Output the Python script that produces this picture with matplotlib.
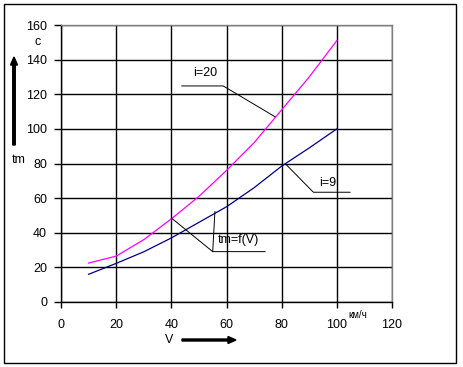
import matplotlib
matplotlib.use("Agg")
import matplotlib.pyplot as plt
from matplotlib.patches import Rectangle, FancyArrow

# speed, km/h
speed = [10, 20, 30, 40, 50, 60, 70, 80, 90, 100]
# time for i=20 and i=9
t_i20 = [22.5, 26.5, 36, 48, 61, 76, 92, 111, 130, 151]
t_i9 = [16, 22.3, 29, 37, 46, 55, 66, 78.5, 89, 100]

x_ticks = [0, 20, 40, 60, 80, 100, 120]
y_ticks = [0, 20, 40, 60, 80, 100, 120, 140, 160]

W, H = 463, 367
plt.rcParams['font.family'] = ['Liberation Sans', 'DejaVu Sans']
fig = plt.figure(figsize=(W / 100, H / 100), dpi=100)
ax = fig.add_axes([61 / W, 1 - 302 / H, 331 / W, 277 / H])

ax.plot(speed, t_i20, color='#ff00ff', lw=0.9)
ax.plot(speed, t_i9, color='#000080', lw=0.9)

ax.set_xlim(0, 120)
ax.set_ylim(0, 160)
ax.set_xticks(x_ticks)
ax.set_yticks(y_ticks)
ax.grid(True, color='black', lw=1.0)
ax.tick_params(axis='x', length=4, width=1, pad=8, labelsize=9)
ax.tick_params(axis='y', length=5, width=1, pad=5, labelsize=9)
for s in ['left', 'bottom']:
    ax.spines[s].set_color('black')
    ax.spines[s].set_linewidth(1)
for s in ['top', 'right']:
    ax.spines[s].set_color('#808080')
    ax.spines[s].set_linewidth(1)
ax.set_axisbelow(True)

# leader lines and labels
lk = dict(color='black', lw=0.7, clip_on=False)
ax.plot([43.8, 58.8, 77.6], [124.8, 124.8, 107], **lk)
ax.text(47.9, 132.3, 'i=20', fontsize=9, va='center', ha='left')
ax.plot([81.8, 91.5, 104.8], [79.1, 63.4, 63.4], **lk)
ax.text(93.5, 68.7, 'i=9', fontsize=9, va='center', ha='left')
ax.plot([40.1, 55.0, 74.0], [48.4, 29.1, 29.1], **lk)
ax.plot([55.0, 55.8], [29.1, 52.2], **lk)
ax.text(56.8, 35.8, 'tm=f(V)', fontsize=9, va='center', ha='left')

# axis captions outside the plot
fig.text(38 / W, 1 - 42 / H, 'c', fontsize=9, ha='center', va='center')
fig.text(19 / W, 1 - 160 / H, 'tm', fontsize=9, ha='center', va='center')
fig.text(169 / W, 1 - 340 / H, 'V', fontsize=9, ha='center', va='center')
fig.text(358 / W, 1 - 315 / H, 'км/ч', fontsize=7, ha='center', va='center')

fig.add_artist(FancyArrow(14 / W, 1 - 145 / H, 0, 88 / H, width=2 / H,
                          head_width=7 / W, head_length=8 / H,
                          length_includes_head=True, color='black',
                          transform=fig.transFigure))
fig.add_artist(FancyArrow(182 / W, 1 - 340 / H, 54 / W, 0, width=2 / H,
                          head_width=7 / H, head_length=8 / W,
                          length_includes_head=True, color='black',
                          transform=fig.transFigure))

fig.add_artist(Rectangle((4 / W, 1 - 363 / H), 452 / W, 359 / H, fill=False,
                         ec='black', lw=1, transform=fig.transFigure))

fig.savefig('out.png', dpi=100)
